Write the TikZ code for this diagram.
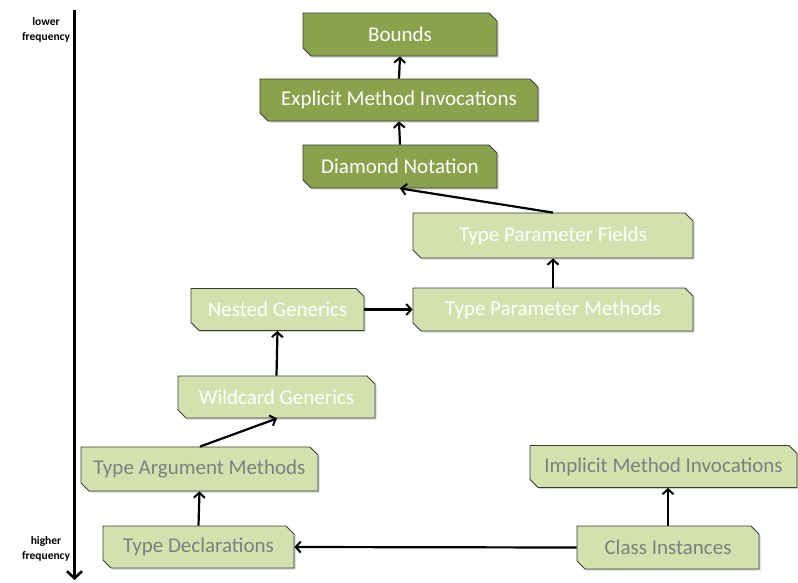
\documentclass[tikz,border=0pt]{standalone}
\usepackage{fontspec}
\setmainfont{Carlito}
\usetikzlibrary{shapes.misc,shadows,arrows.meta}
\definecolor{darkg}{HTML}{8BA24C}
\definecolor{lightg}{HTML}{D3E1AF}
\definecolor{edge}{HTML}{3A3A3A}
\definecolor{greytxt}{HTML}{7F7F7F}
\tikzset{
  snip/.style={chamfered rectangle, chamfered rectangle corners={north east,south west},
    chamfered rectangle xsep=4pt, chamfered rectangle ysep=4pt,
    draw=edge, line width=0.8pt, inner sep=0pt,
    drop shadow={shadow xshift=1.5pt, shadow yshift=-1.5pt, opacity=0.35},
    font=\fontsize{21}{24}\selectfont},
  dark/.style={snip, fill=darkg, text=white},
  lightw/.style={snip, fill=lightg, text=white},
  lightgr/.style={snip, fill=lightg, text=greytxt},
  conn/.style={line width=2.2pt, -{Straight Barb[length=5pt,width=11pt,line width=2pt]}},
  axlbl/.style={font=\fontsize{11.5}{15.5}\selectfont\bfseries, align=center},
}
\begin{document}
\begin{tikzpicture}[x=1pt,y=-1pt]
\useasboundingbox (0,0) rectangle (798,582);
\node[dark, minimum width=194, minimum height=43] (bounds) at (400,34.5) {Bounds};
\node[dark, minimum width=278, minimum height=42] (emi) at (399,100) {Explicit Method Invocations};
\node[dark, minimum width=194, minimum height=43] (dn) at (400,166.5) {Diamond Notation};
\node[lightw, minimum width=280, minimum height=45] (tpf) at (553,235.5) {Type Parameter Fields};
\node[lightw, minimum width=280, minimum height=43] (tpm) at (553,309.5) {Type Parameter Methods};
\node[lightw, minimum width=173, minimum height=42] (ng) at (277.5,309.5) {Nested Generics};
\node[lightw, minimum width=197, minimum height=42] (wg) at (276.5,397) {Wildcard Generics};
\node[lightgr, minimum width=237, minimum height=44] (tam) at (199.5,469) {Type Argument Methods};
\node[lightgr, minimum width=191, minimum height=42] (td) at (198.5,547) {Type Declarations};
\node[lightgr, minimum width=267, minimum height=42] (imi) at (663.5,466.5) {Implicit Method Invocations};
\node[lightgr, minimum width=182, minimum height=43] (ci) at (668,547.5) {Class Instances};

\draw[conn] (emi.north) -- (bounds.south);
\draw[conn] (dn.north) -- (emi.south);
\draw[conn] (tpf.north) -- (dn.south);
\draw[conn] (tpm.north) -- (tpf.south);
\draw[conn] (ng.east) -- (tpm.west);
\draw[conn] (wg.north) -- (ng.south);
\draw[conn] ([xshift=0.5pt]tam.north) -- ([xshift=0.5pt]wg.south);
\draw[conn] (td.north) -- (tam.south);
\draw[conn] (ci.west) -- (td.east);
\draw[conn] (ci.north) -- (ci.north |- imi.south);

\coordinate (axtop) at (74.5,10);
\coordinate (axbot) at (74.5,580);
\draw[line width=3pt, -{Straight Barb[length=7pt,width=15pt,line width=2.6pt]}] (axtop) -- (axbot);
\node[axlbl] (lo) at (46,30) {lower\\frequency};
\node[axlbl] (hi) at (46,549) {higher\\frequency};
\end{tikzpicture}
\end{document}
